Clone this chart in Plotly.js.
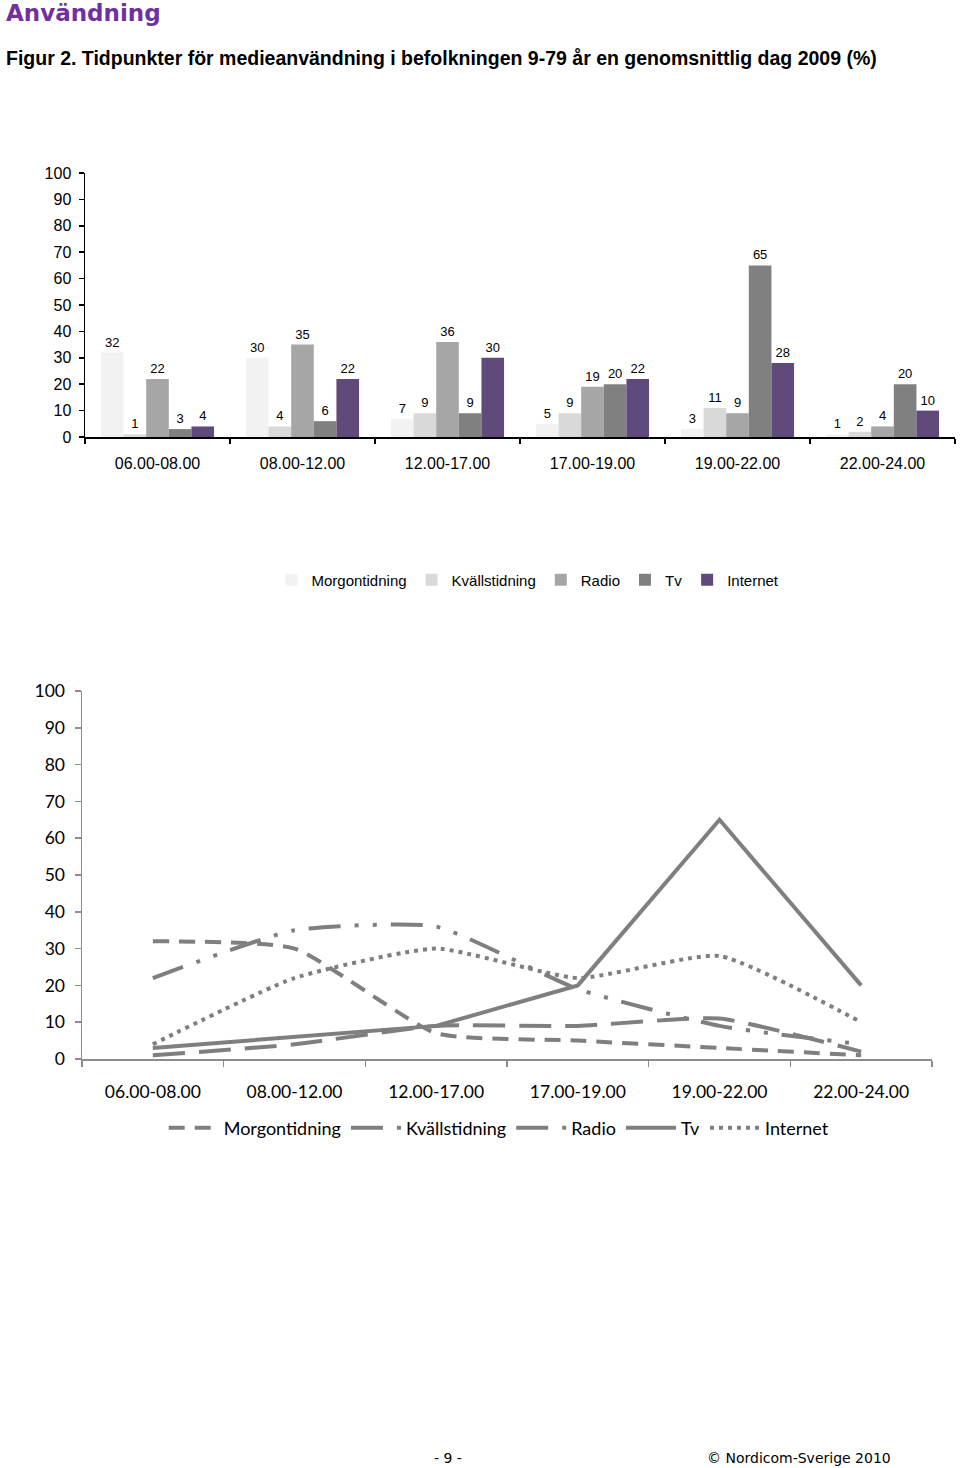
<!DOCTYPE html>
<html>
<head>
<meta charset="utf-8">
<script src="https://cdn.plot.ly/plotly-3.0.1.min.js"></script>
<style>
html,body{margin:0;padding:0;background:#fff;}
#chart{width:960px;height:1468px;}
</style>
</head>
<body>
<div id="chart"></div>
<script>
// ---- Data ----
const categories = ["06.00-08.00","08.00-12.00","12.00-17.00","17.00-19.00","19.00-22.00","22.00-24.00"];
const seriesNames = ["Morgontidning","Kvällstidning","Radio","Tv","Internet"];
const morgontidning = [32, 30, 7, 5, 3, 1];
const kvallstidning = [1, 4, 9, 9, 11, 2];
const radio = [22, 35, 36, 19, 9, 4];
const tv = [3, 6, 9, 20, 65, 20];
const internet = [4, 22, 30, 22, 28, 10];
const yTicks = [0,10,20,30,40,50,60,70,80,90,100];

const seriesValues = [morgontidning, kvallstidning, radio, tv, internet];
const barColors = ["#f2f2f2","#d9d9d9","#a6a6a6","#808080","#604a7b"];
const lineDashes = ["16px,10px","32px,14px","32px,14px,4px,14px,4px,14px","solid","4px,5px"];
const lineShapes = ["spline","spline","spline","linear","spline"];

const H = 1468, W = 960;
const py = p => 1 - p / H;
const px = p => p / W;

const traces = [];
seriesValues.forEach((vals, i) => {
  traces.push({
    type: "bar",
    name: seriesNames[i],
    x: categories,
    y: vals,
    xaxis: "x", yaxis: "y",
    marker: {color: barColors[i]},
    text: vals.map(String),
    textposition: "outside",
    textfont: {family: "Liberation Sans, Arial, sans-serif", size: 13, color: "#000"},
    cliponaxis: false,
    constraintext: "none",
    legend: "legend",
    hoverinfo: "skip"
  });
});
seriesValues.forEach((vals, i) => {
  traces.push({
    type: "scatter",
    mode: "lines",
    name: seriesNames[i],
    x: categories,
    y: vals,
    xaxis: "x2", yaxis: "y2",
    line: {color: "#7f7f7f", width: 4, dash: lineDashes[i], shape: lineShapes[i], smoothing: 0.5},
    legend: "legend2",
    hoverinfo: "skip"
  });
});

const arial = "Liberation Sans, Arial, sans-serif";
const calib = "Lato, Carlito, Calibri, sans-serif";

const layout = {
  width: W, height: H,
  margin: {l:0, r:0, t:0, b:0},
  paper_bgcolor: "#fff", plot_bgcolor: "rgba(0,0,0,0)",
  showlegend: true,
  barmode: "group",
  bargap: 0.22,
  bargroupgap: 0,
  xaxis: {
    domain: [px(85), px(955)], anchor: "y",
    type: "category", range: [-0.5, 5.5],
    showline: true, linecolor: "#000", linewidth: 1.5,
    ticks: "outside", tickson: "boundaries", ticklen: 5, tickcolor: "#000", tickwidth: 1.5,
    tickfont: {family: arial, size: 16, color: "#000"},
    ticklabelstandoff: 11,
    showgrid: false, zeroline: false, fixedrange: true
  },
  yaxis: {
    domain: [py(437), py(173)], anchor: "x",
    range: [0, 100], tickvals: yTicks,
    showline: true, linecolor: "#000", linewidth: 1.5,
    ticks: "outside", ticklen: 5, tickcolor: "#000", tickwidth: 1.5,
    tickfont: {family: arial, size: 16, color: "#000"},
    ticklabelstandoff: 4,
    showgrid: false, zeroline: false, fixedrange: true
  },
  xaxis2: {
    domain: [px(82), px(932)], anchor: "y2",
    type: "category", range: [-0.5, 5.5],
    showline: true, linecolor: "#8c8c8c", linewidth: 1.5,
    ticks: "outside", tickson: "boundaries", ticklen: 6, tickcolor: "#8c8c8c", tickwidth: 1.5,
    tickfont: {family: calib, size: 17.5, color: "#000"},
    ticklabelstandoff: 16,
    showgrid: false, zeroline: false, fixedrange: true
  },
  yaxis2: {
    domain: [py(1059), py(691)], anchor: "x2",
    range: [0, 100], tickvals: yTicks,
    showline: true, linecolor: "#8c8c8c", linewidth: 1.5,
    ticks: "outside", ticklen: 6, tickcolor: "#8c8c8c", tickwidth: 1.5,
    tickfont: {family: calib, size: 17.5, color: "#000"},
    ticklabelstandoff: 6,
    showgrid: false, zeroline: false, fixedrange: true
  },
  legend: {
    orientation: "h", x: 0.55, xanchor: "center", y: py(580), yanchor: "middle",
    font: {family: arial, size: 15, color: "#000"},
    itemwidth: 30, tracegroupgap: 0, bgcolor: "rgba(0,0,0,0)"
  },
  legend2: {
    orientation: "h", x: 0.52, xanchor: "center", y: py(1128), yanchor: "middle",
    font: {family: calib, size: 18, color: "#000"},
    itemwidth: 50, bgcolor: "rgba(0,0,0,0)"
  },
  annotations: [
    {text: "<b>Användning</b>", xref: "paper", yref: "paper", x: px(4), y: py(13), xanchor: "left", yanchor: "middle",
     showarrow: false, font: {family: "DejaVu Sans, Verdana, sans-serif", size: 23, color: "#7030a0"}},
    {text: "<b>Figur 2. Tidpunkter för medieanvändning i befolkningen 9-79 år en genomsnittlig dag 2009 (%)</b>",
     xref: "paper", yref: "paper", x: px(4), y: py(58), xanchor: "left", yanchor: "middle",
     showarrow: false, font: {family: arial, size: 19.5, color: "#000"}},
    {text: "- 9 -", xref: "paper", yref: "paper", x: px(448), y: py(1458), xanchor: "center", yanchor: "middle",
     showarrow: false, font: {family: "DejaVu Sans, Verdana, sans-serif", size: 14, color: "#000"}},
    {text: "© Nordicom-Sverige 2010", xref: "paper", yref: "paper", x: px(893), y: py(1458), xanchor: "right", yanchor: "middle",
     showarrow: false, font: {family: "DejaVu Sans, Verdana, sans-serif", size: 14, color: "#000"}}
  ]
};

Plotly.newPlot("chart", traces, layout, {displayModeBar: false, staticPlot: true});
</script>
</body>
</html>
